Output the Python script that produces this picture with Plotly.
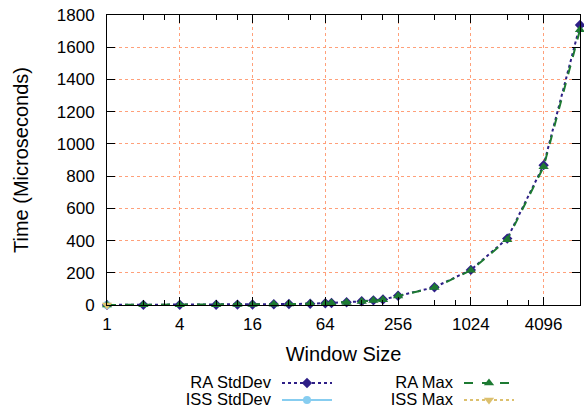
import numpy as np
import plotly.graph_objects as go

# window sizes and timings (microseconds)
window = [1, 2, 4, 8, 12, 16, 24, 32, 48, 64, 72, 96, 128, 160, 192, 256,
          512, 1024, 2048, 4096, 8192]
ra_stddev = [0.5, 1, 1.5, 2, 2.5, 3.5, 4.5, 6, 8, 11, 12, 17, 23, 29, 34, 57,
             110, 218, 412, 868, 1738]
ra_max = [0.5, 1, 1.5, 2, 2.5, 3.5, 4.5, 6, 8, 11, 12, 16, 22, 28, 33, 56,
          108, 215, 405, 858, 1708]
iss_window = [1]
iss_stddev = [0.5]
iss_max = [0.5]

x_ticks = [1, 4, 16, 64, 256, 1024, 4096]
x_minor = [2, 3, 8, 12, 32, 48, 128, 192, 512, 768, 2048, 3072]
y_ticks = list(range(0, 1801, 200))

legend_names = ["RA StdDev", "ISS StdDev", "RA Max", "ISS Max"]

FONT = "Liberation Sans, Arial, Helvetica, sans-serif"
W, H = 584, 412
L, R, T, B = 107, 580, 15, 305

C_RA_SD = "#2e1f87"
C_ISS_SD = "#87cdf0"
C_RA_MX = "#1d7a32"
C_ISS_MX = "#dcc06e"

fig = go.Figure()

styles = [
    (C_RA_SD, "dot", "diamond", 8),
    (C_ISS_SD, "solid", "circle", 8),
    (C_RA_MX, "dash", "triangle-up", 9),
    (C_ISS_MX, "dot", "triangle-down", 9),
]
series = [(window, ra_stddev), (iss_window, iss_stddev),
          (window, ra_max), (iss_window, iss_max)]

for (xs, ys), (col, dash, sym, ms) in zip(series, styles):
    fig.add_trace(go.Scatter(
        x=xs, y=ys, mode="lines+markers",
        line=dict(color=col, width=2, dash=dash),
        marker=dict(symbol=sym, size=ms, color=col),
        cliponaxis=False,
        showlegend=False, hoverinfo="skip"))

# hand-made legend, gnuplot style: name on the left, key sample on the right
leg_rows = [(270, 383), (270, 400), (452, 383), (452, 400)]
for name, (tx, ty), (col, dash, sym, ms) in zip(legend_names, leg_rows, styles):
    fig.add_trace(go.Scatter(
        x=[tx + 12, tx + 62], y=[ty, ty], mode="lines",
        line=dict(color=col, width=2, dash=dash),
        xaxis="x2", yaxis="y2", showlegend=False, hoverinfo="skip"))
    fig.add_trace(go.Scatter(
        x=[tx + 37], y=[ty], mode="markers",
        marker=dict(symbol=sym, size=ms, color=col),
        xaxis="x2", yaxis="y2", showlegend=False, hoverinfo="skip"))
    fig.add_trace(go.Scatter(
        x=[tx + 1], y=[ty + 1], mode="text", text=[name],
        textposition="middle left",
        textfont=dict(size=16.5, color="black", family=FONT),
        xaxis="x2", yaxis="y2", showlegend=False, hoverinfo="skip"))

grid = "#ffa07a"
fig.update_layout(
    template="none",
    width=W, height=H,
    margin=dict(l=0, r=0, t=0, b=0),
    paper_bgcolor="white",
    plot_bgcolor="rgba(0,0,0,0)",
    font=dict(family=FONT, size=17, color="black"),
    xaxis=dict(
        type="log", domain=[L / W, R / W],
        range=[0, np.log10(8192)],
        automargin=False, ticklabeloverflow="allow",
        tickmode="array", tickvals=x_ticks,
        ticktext=[str(v) for v in x_ticks],
        ticks="inside", ticklen=8, tickcolor="black",
        showline=True, linecolor="black", linewidth=1, mirror="ticks",
        showgrid=True, gridcolor=grid, griddash="dot", gridwidth=1,
        minor=dict(tickvals=x_minor, ticks="inside", ticklen=5,
                   tickcolor="black", showgrid=False),
        ticklabelstandoff=4,
        title=dict(text="Window Size", standoff=13),
        zeroline=False),
    yaxis=dict(
        domain=[1 - B / H, 1 - T / H],
        range=[0, 1800],
        automargin=False, ticklabeloverflow="allow",
        tickmode="array", tickvals=y_ticks,
        ticks="inside", ticklen=8, tickcolor="black",
        showline=True, linecolor="black", linewidth=1, mirror="ticks",
        showgrid=True, gridcolor=grid, griddash="dot", gridwidth=1,
        ticklabelstandoff=8,
        title=dict(text="Time (Microseconds)", standoff=22),
        zeroline=False),
    xaxis2=dict(domain=[0, 1], range=[0, W], visible=False,
                anchor="y2", fixedrange=True, automargin=False),
    yaxis2=dict(domain=[0, 1], range=[H, 0], visible=False,
                anchor="x2", fixedrange=True, automargin=False),
)

# drop the default 8px body margin so the 584x412 figure fills the window
fig.write_html("out.html",
               config={"displayModeBar": False},
               post_script="document.body.style.margin='0px';"
                           "document.body.style.overflow='hidden';")
